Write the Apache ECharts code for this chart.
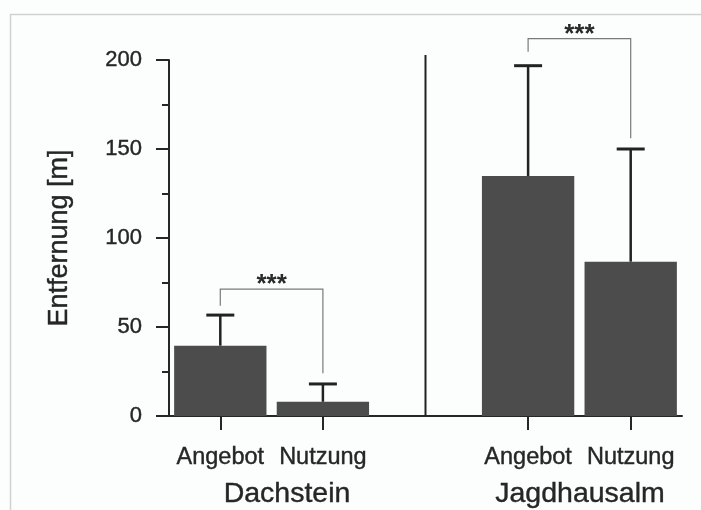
<!DOCTYPE html>
<html>
<head>
<meta charset="utf-8">
<script src="https://cdn.jsdelivr.net/npm/echarts@6/dist/echarts.min.js"></script>
<style>
html,body{margin:0;padding:0;background:#fcfdfd;}
#chart{width:701px;height:510px;}
</style>
</head>
<body>
<div id="chart"></div>
<script>
// ---- data ----
var categories = ['Angebot', 'Nutzung', '', 'Angebot', 'Nutzung'];
var groups = ['Dachstein', 'Jagdhausalm'];
var means = [39.5, 8, null, 134.8, 86.7];
var errorTops = [56.7, 18, null, 196.8, 150];
var yTicks = [0, 50, 100, 150, 200];
// significance brackets: [leftIndex, rightIndex, bracketY, leftDropY, rightDropY, label]
var brackets = [
  [0, 1, 71.3, 62, 24, '***'],
  [3, 4, 212, 204.7, 156, '***']
];
var separator = [2, 0, 202.8]; // [index, fromY, toY]

var FONT = "'Liberation Sans', Arial, sans-serif";
var INK = '#262626';

var chart = echarts.init(document.getElementById('chart'));

var option = {
  backgroundColor: '#fcfdfd',
  animation: false,
  grid: { left: 169, right: 19, top: 60, bottom: 94 },
  xAxis: {
    type: 'category',
    data: categories,
    boundaryGap: true,
    axisLine: { lineStyle: { color: INK, width: 2 } },
    axisTick: {
      show: true, alignWithLabel: true, length: 14,
      lineStyle: { color: INK, width: 2 },
      interval: function (i) { return categories[i] !== ''; }
    },
    axisLabel: { color: INK, fontSize: 23.5, fontFamily: FONT, margin: 30, interval: 0,
                 textBorderColor: INK, textBorderWidth: 0.4 },
    splitLine: { show: false }
  },
  yAxis: {
    type: 'value',
    min: yTicks[0], max: yTicks[yTicks.length - 1], interval: 50,
    name: 'Entfernung [m]',
    nameLocation: 'middle',
    nameGap: 96,
    nameTextStyle: { color: INK, fontSize: 27, fontFamily: FONT, textBorderColor: INK, textBorderWidth: 0.4 },
    axisLine: { show: true, lineStyle: { color: INK, width: 2 } },
    axisTick: { show: true, length: 13, lineStyle: { color: INK, width: 2 } },
    minorTick: { show: true, splitNumber: 2, length: 7, lineStyle: { color: INK, width: 2 } },
    axisLabel: { color: INK, fontSize: 22, fontFamily: FONT, margin: 27, textBorderColor: INK, textBorderWidth: 0.4 },
    splitLine: { show: false }
  },
  series: [
    {
      type: 'bar',
      data: means.map(function (v) { return v === null ? '-' : v; }),
      barWidth: '90%',
      itemStyle: { color: '#4c4c4c' },
      silent: true,
      z: 2
    },
    {
      type: 'custom',
      silent: true,
      z: 3,
      data: means.map(function (m, i) { return [i, m, errorTops[i]]; }).filter(function (d) { return d[1] !== null; }),
      renderItem: function (params, api) {
        var i = api.value(0);
        var base = api.coord([i, api.value(1)]);
        var top = api.coord([i, api.value(2)]);
        var half = 14;
        return {
          type: 'group',
          children: [
            { type: 'line', shape: { x1: base[0], y1: base[1], x2: top[0], y2: top[1] },
              style: { stroke: '#222', lineWidth: 2.5 } },
            { type: 'line', shape: { x1: top[0] - half, y1: top[1], x2: top[0] + half, y2: top[1] },
              style: { stroke: '#222', lineWidth: 3 } }
          ]
        };
      }
    },
    {
      type: 'custom',
      silent: true,
      z: 3,
      data: brackets,
      renderItem: function (params, api) {
        var b = brackets[params.dataIndex];
        var pL = api.coord([b[0], b[3]]);
        var pLt = api.coord([b[0], b[2]]);
        var pRt = api.coord([b[1], b[2]]);
        var pR = api.coord([b[1], b[4]]);
        var cx = (pLt[0] + pRt[0]) / 2;
        return {
          type: 'group',
          children: [
            { type: 'polyline', shape: { points: [pL, pLt, pRt, pR] },
              style: { stroke: '#7a7a7a', lineWidth: 1.2, fill: null } },
            { type: 'text', x: cx, y: pLt[1] - 17,
              style: { text: b[5], fontSize: 26, fontWeight: 'bold', fontFamily: FONT,
                       fill: '#2a2a2a', align: 'center', verticalAlign: 'top' } }
          ]
        };
      }
    },
    {
      type: 'custom',
      silent: true,
      z: 3,
      data: [separator],
      renderItem: function (params, api) {
        var a = api.coord([api.value(0), api.value(1)]);
        var b = api.coord([api.value(0), api.value(2)]);
        return { type: 'line', shape: { x1: a[0], y1: a[1], x2: b[0], y2: b[1] },
                 style: { stroke: '#222', lineWidth: 2 } };
      }
    }
  ],
  graphic: [
    { type: 'rect', left: 8, top: 12, silent: true, z: -1,
      shape: { width: 720, height: 520 },
      style: { fill: null, stroke: '#cfd3d3', lineWidth: 1.5 } },
    { type: 'text', x: 287, y: 494, silent: true,
      style: { text: groups[0], fontSize: 28.5, fontFamily: FONT, fill: INK, align: 'center', verticalAlign: 'middle',
               stroke: INK, lineWidth: 0.4 } },
    { type: 'text', x: 580, y: 494, silent: true,
      style: { text: groups[1], fontSize: 28.5, fontFamily: FONT, fill: INK, align: 'center', verticalAlign: 'middle',
               stroke: INK, lineWidth: 0.4 } }
  ]
};
chart.setOption(option);
</script>
</body>
</html>
